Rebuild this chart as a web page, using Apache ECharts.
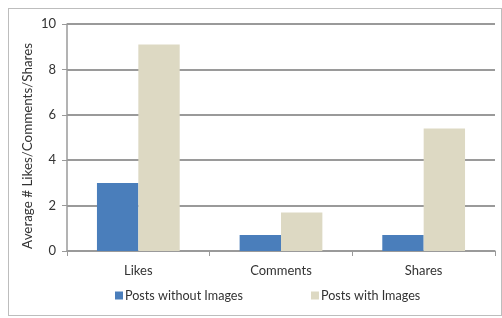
<!DOCTYPE html>
<html><head><meta charset="utf-8">
<script src="https://cdn.jsdelivr.net/npm/echarts@6/dist/echarts.min.js"></script>
<style>html,body{margin:0;padding:0;background:#fff}
#c{position:absolute;left:8px;top:8px;width:494px;height:308px;border:1px solid #bdbdbd;box-sizing:border-box}
#chart{width:502px;height:318px;position:absolute;left:0;top:0}</style>
</head><body><div id="c"></div><div id="chart"></div>
<script>
const categories = ['Likes', 'Comments', 'Shares'];
const seriesNames = ['Posts without Images', 'Posts with Images'];
const withoutImages = [3.0, 0.7, 0.7];
const withImages = [9.1, 1.7, 5.4];
const yTicks = [0, 2, 4, 6, 8, 10];
const yTitle = 'Average # Likes/Comments/Shares';

const font = 'Lato, "Open Sans", sans-serif';
const chart = echarts.init(document.getElementById('chart'));
chart.setOption({
  animation: false,
  textStyle: { fontFamily: font },
  grid: { left: 67, right: 7, top: 24, bottom: 67 },
  legend: {
    bottom: 11, left: 110, itemWidth: 8, itemHeight: 8, itemGap: 68,
    icon: 'rect',
    textStyle: { fontSize: 12.6, color: '#333', fontFamily: font, padding: [0, 0, 0, -3] },
    data: seriesNames
  },
  graphic: [{
    type: 'text', left: 21, top: 43, rotation: Math.PI / 2,
    style: { text: yTitle, fontSize: 13.4, fill: '#333', fontFamily: font }
  }],
  xAxis: {
    type: 'category', data: categories,
    axisLine: { lineStyle: { color: '#9a9a9a', width: 1.5 } },
    axisTick: { show: true, length: 5, lineStyle: { color: '#9a9a9a' } },
    axisLabel: { fontSize: 13, color: '#333', margin: 13, fontFamily: font }
  },
  yAxis: {
    type: 'value', min: yTicks[0], max: yTicks[yTicks.length - 1], interval: 2,
    axisLine: { show: true, lineStyle: { color: '#9a9a9a', width: 1.5 } },
    axisTick: { show: true, length: 5, lineStyle: { color: '#9a9a9a' } },
    axisLabel: { fontSize: 13, color: '#333', margin: 11, fontFamily: font },
    splitLine: { lineStyle: { color: '#9a9a9a', width: 1.8 } }
  },
  series: [
    { name: seriesNames[0], type: 'bar', data: withoutImages, barGap: '0%', barCategoryGap: '42%',
      itemStyle: { color: '#4a7ebb' } },
    { name: seriesNames[1], type: 'bar', data: withImages,
      itemStyle: { color: '#ddd9c3' } }
  ]
});
</script></body></html>
